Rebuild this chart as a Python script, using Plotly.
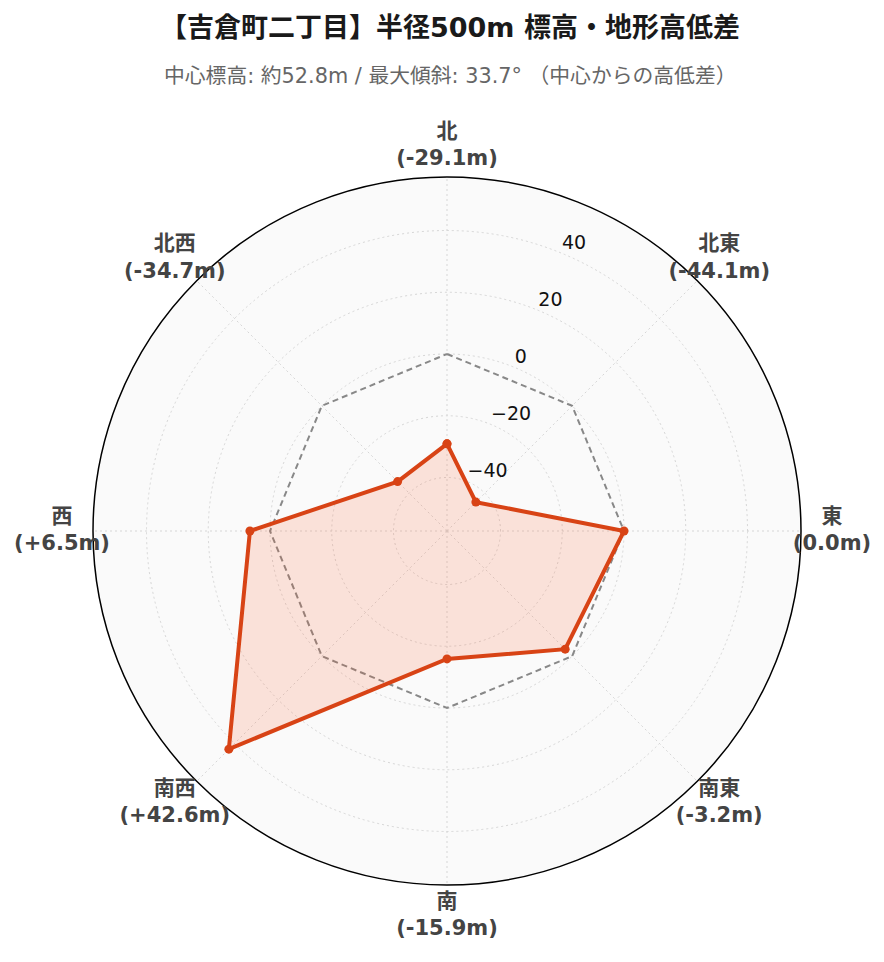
import plotly.graph_objects as go

directions = ["北", "北東", "東", "南東", "南", "南西", "西", "北西"]
diffs = [-29.1, -44.1, 0.0, -3.2, -15.9, 42.6, 6.5, -34.7]
radial_ticks = [-40, -20, 0, 20, 40]

title_text = "【吉倉町二丁目】半径500m 標高・地形高低差"
subtitle_text = "中心標高: 約52.8m / 最大傾斜: 33.7° （中心からの高低差）"

dir_labels = [f"<b>{d}<br>({v:+.1f}m)</b>" if v != 0 else f"<b>{d}<br>({v:.1f}m)</b>"
              for d, v in zip(directions, diffs)]
tick_labels = [str(v).replace("-", "\u2212") for v in radial_ticks]

n = len(directions)
angles = [i * 360 / n for i in range(n)]
max_abs = max(abs(v) for v in diffs)
rng = [-max_abs * 1.3, max_abs * 1.3]
span = rng[1] - rng[0]
label_r = rng[1] * 1.175
tick_theta = 360 / n / 2  # between 北 and 北東

theta_closed = angles + [angles[0]]
r_closed = diffs + [diffs[0]]

W, H = 884, 962
OFF = 8  # page body margin
CX, CY, R = 447 - OFF, 531 - OFF, 354      # main polar circle (figure px)
R2 = 410                                     # invisible outer polar for labels
FONT = "DejaVu Sans, Noto Sans CJK JP, sans-serif"


def dom_x(c, r):
    return [(c - r) / W, (c + r) / W]


def dom_y(c, r):
    return [1 - (c + r) / H, 1 - (c - r) / H]


def py(pixel_y):
    return 1 - (pixel_y - OFF) / H


fig = go.Figure()
fig.add_trace(go.Scatterpolar(
    r=[0] * (n + 1), theta=theta_closed, mode="lines",
    line=dict(color="#888888", width=2, dash="6px,4px"),
    hoverinfo="skip", showlegend=False,
))
fig.add_trace(go.Scatterpolar(
    r=r_closed, theta=theta_closed, mode="lines+markers",
    fill="toself", fillcolor="rgba(255,87,34,0.15)",
    line=dict(color="#D84315", width=4),
    marker=dict(color="#D84315", size=9),
    showlegend=False,
))
# radial tick labels (horizontal, along the direction between 北 and 北東)
fig.add_trace(go.Scatterpolar(
    r=radial_ticks, theta=[tick_theta] * len(radial_ticks), mode="text",
    text=tick_labels, textposition="top right",
    textfont=dict(family=FONT, size=19, color="#111"),
    cliponaxis=False, hoverinfo="skip", showlegend=False,
))
# direction labels outside the circle (on an invisible, larger polar with the same scale)
fig.add_trace(go.Scatterpolar(
    r=[label_r] * n, theta=angles, mode="text", subplot="polar2",
    text=dir_labels, textposition="middle center",
    textfont=dict(family=FONT, size=21, color="#444"),
    cliponaxis=False, hoverinfo="skip", showlegend=False,
))

fig.update_layout(
    width=W, height=H,
    paper_bgcolor="white",
    font=dict(family=FONT, size=14, color="#000"),
    margin=dict(l=0, r=0, t=0, b=0),
    showlegend=False,
    polar=dict(
        domain=dict(x=dom_x(CX, R), y=dom_y(CY, R)),
        bgcolor="#fafafa",
        angularaxis=dict(
            direction="clockwise", rotation=90,
            tickmode="array", tickvals=angles, showticklabels=False,
            showline=True, linecolor="black", linewidth=1.5,
            gridcolor="#d6d6d6", griddash="2px,3px", gridwidth=1.2,
            ticks="",
        ),
        radialaxis=dict(
            range=rng, tickmode="array", tickvals=radial_ticks, showticklabels=False,
            showline=False, ticks="",
            gridcolor="#d6d6d6", griddash="2px,3px", gridwidth=1.2,
        ),
    ),
    polar2=dict(
        domain=dict(x=dom_x(CX, R2), y=dom_y(CY, R2)),
        bgcolor="rgba(0,0,0,0)",
        angularaxis=dict(direction="clockwise", rotation=90, showline=False,
                         showgrid=False, showticklabels=False, ticks=""),
        radialaxis=dict(range=[rng[0], rng[0] + span * R2 / R], visible=False,
                        showgrid=False, showline=False, showticklabels=False, ticks=""),
    ),
)
fig.add_annotation(text=f"<b>{title_text}</b>", x=0.5, y=py(27), xref="paper", yref="paper",
                   xanchor="center", yanchor="middle", showarrow=False,
                   font=dict(family=FONT, size=27, color="#1a1a1a"))
fig.add_annotation(text=subtitle_text, x=0.5, y=py(76), xref="paper", yref="paper",
                   xanchor="center", yanchor="middle", showarrow=False,
                   font=dict(family=FONT, size=20.8, color="#666"))

fig.write_html("out.html")
